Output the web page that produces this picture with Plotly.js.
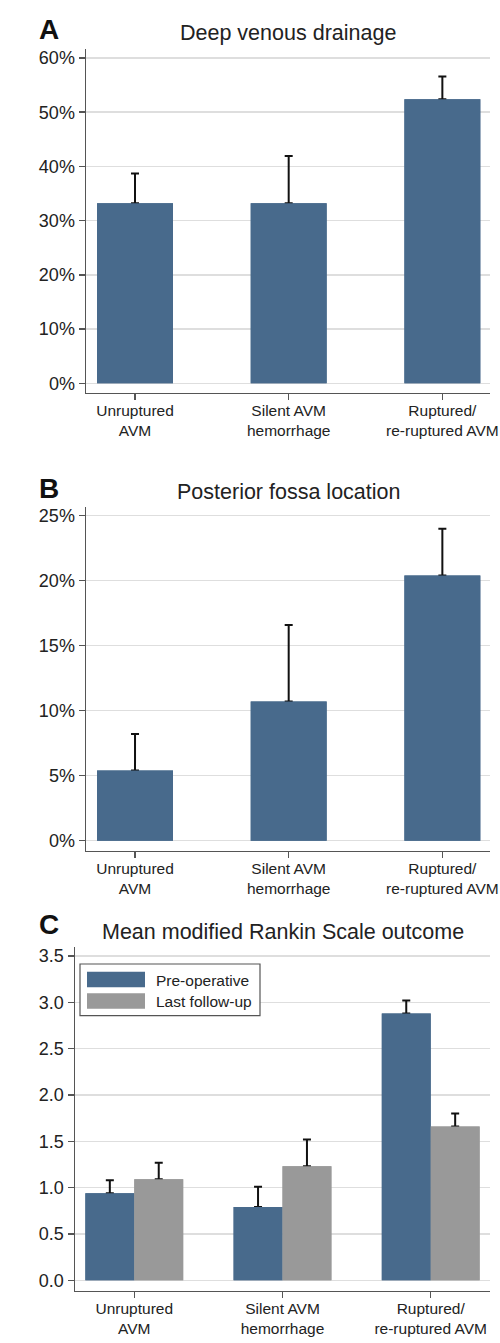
<!DOCTYPE html>
<html>
<head>
<meta charset="utf-8">
<script src="https://cdn.plot.ly/plotly-3.0.1.min.js"></script>
<style>
  html, body { margin: 0; padding: 0; background: #ffffff; }
  #chart { width: 500px; height: 1343px; }
</style>
</head>
<body>
<div id="chart"></div>
<script>
// ---- Data ----
const categories = ['Unruptured<br>AVM', 'Silent AVM<br>hemorrhage', 'Ruptured/<br>re-ruptured AVM'];

const deepVenous = [33.2, 33.2, 52.4];
const deepVenousUpper = [38.7, 41.9, 56.6];

const posteriorFossa = [5.4, 10.7, 20.4];
const posteriorFossaUpper = [8.2, 16.6, 24.0];

const seriesNames = ['Pre-operative', 'Last follow-up'];
const mrsPreop = [0.94, 0.79, 2.88];
const mrsPreopUpper = [1.08, 1.01, 3.02];
const mrsLast = [1.09, 1.23, 1.66];
const mrsLastUpper = [1.27, 1.52, 1.80];

const panelTitles = ['Deep venous drainage', 'Posterior fossa location', 'Mean modified Rankin Scale outcome'];
const panelLetters = ['A', 'B', 'C'];

const ticksA = [0, 10, 20, 30, 40, 50, 60];
const ticksB = [0, 5, 10, 15, 20, 25];
const ticksC = [0, 0.5, 1, 1.5, 2, 2.5, 3, 3.5];

// ---- Styling ----
const W = 500, H = 1343;
const px = v => v / W;
const py = v => 1 - v / H;
const BLUE = '#486a8c';
const GREY = '#999999';
const AXIS = '#555555';
const GRID = '#dedede';
const TXT = '#222222';
const FONT = 'Arial, "Liberation Sans", Helvetica, sans-serif';

function diff(upper, val) { return upper.map((u, i) => u - val[i]); }
function zeros(a) { return a.map(() => 0); }

function errBars(upper, val) {
  return {type: 'data', symmetric: false, array: diff(upper, val), arrayminus: zeros(val),
          color: '#111111', thickness: 2, width: 4, visible: true};
}

const traces = [];
// Panel A
traces.push({type: 'bar', x: categories, y: deepVenous, xaxis: 'x', yaxis: 'y', width: 0.494,
  marker: {color: BLUE, line: {width: 0}}, error_y: errBars(deepVenousUpper, deepVenous),
  showlegend: false, hoverinfo: 'skip'});
traces.push({type: 'bar', x: categories, y: deepVenous, xaxis: 'x', yaxis: 'y', width: 0.494,
  marker: {color: BLUE, line: {width: 0}}, showlegend: false, name: 'Deep venous drainage'});
// Panel B
traces.push({type: 'bar', x: categories, y: posteriorFossa, xaxis: 'x2', yaxis: 'y2', width: 0.494,
  marker: {color: BLUE, line: {width: 0}}, error_y: errBars(posteriorFossaUpper, posteriorFossa),
  showlegend: false, hoverinfo: 'skip'});
traces.push({type: 'bar', x: categories, y: posteriorFossa, xaxis: 'x2', yaxis: 'y2', width: 0.494,
  marker: {color: BLUE, line: {width: 0}}, showlegend: false, name: 'Posterior fossa location'});
// Panel C
const bw = 0.33;
traces.push({type: 'bar', x: categories, y: mrsPreop, xaxis: 'x3', yaxis: 'y3', width: bw, offset: -bw,
  marker: {color: BLUE, line: {width: 0}}, error_y: errBars(mrsPreopUpper, mrsPreop),
  showlegend: false, hoverinfo: 'skip'});
traces.push({type: 'bar', x: categories, y: mrsLast, xaxis: 'x3', yaxis: 'y3', width: bw, offset: 0,
  marker: {color: GREY, line: {width: 0}}, error_y: errBars(mrsLastUpper, mrsLast),
  showlegend: false, hoverinfo: 'skip'});
traces.push({type: 'bar', x: categories, y: mrsPreop, xaxis: 'x3', yaxis: 'y3', width: bw, offset: -bw,
  marker: {color: BLUE, line: {width: 0}}, name: seriesNames[0], showlegend: false});
traces.push({type: 'bar', x: categories, y: mrsLast, xaxis: 'x3', yaxis: 'y3', width: bw, offset: 0,
  marker: {color: GREY, line: {width: 0}}, name: seriesNames[1], showlegend: false});

function xAxis(domain, range, anchor) {
  return {domain: domain, range: range, anchor: anchor, type: 'category',
    showline: true, linecolor: AXIS, linewidth: 1.5, mirror: false,
    ticks: 'outside', ticklen: 6, tickwidth: 1.5, tickcolor: AXIS,
    ticklabelstandoff: -3,
    showgrid: false, zeroline: false, fixedrange: true,
    tickfont: {family: FONT, size: 15.5, color: TXT}};
}
function yAxis(domain, range, anchor, tickvals, ticktext, fontSize) {
  return {domain: domain, range: range, anchor: anchor,
    tickmode: 'array', tickvals: tickvals, ticktext: ticktext,
    showline: true, linecolor: AXIS, linewidth: 1.5,
    ticks: 'outside', ticklen: 6, tickwidth: 1.5, tickcolor: AXIS,
    showgrid: true, gridcolor: GRID, gridwidth: 1.5, zeroline: false, fixedrange: true,
    tickfont: {family: FONT, size: fontSize, color: TXT}};
}

const pct = a => a.map(v => v + '%');
const dec = a => a.map(v => v.toFixed(1));

const layout = {
  width: W, height: H,
  margin: {l: 0, r: 0, t: 0, b: 0},
  paper_bgcolor: '#ffffff', plot_bgcolor: '#ffffff',
  barmode: 'overlay',
  showlegend: false,
  font: {family: FONT, color: TXT},
  xaxis: xAxis([px(86), px(490)], [-0.319, 2.31], 'y'),
  yaxis: yAxis([py(392.7), py(49.3)], [-1.73, 61.6], 'x', ticksA, pct(ticksA), 18),
  xaxis2: xAxis([px(86), px(490)], [-0.319, 2.31], 'y2'),
  yaxis2: yAxis([py(850.7), py(506.7)], [-0.77, 25.69], 'x2', ticksB, pct(ticksB), 18),
  xaxis3: xAxis([px(75), px(490)], [-0.4, 2.4], 'y3'),
  yaxis3: yAxis([py(1290.7), py(946.7)], [-0.112, 3.6], 'x3', ticksC, dec(ticksC), 18),
  annotations: [
    {text: panelTitles[0], xref: 'paper', yref: 'paper', x: px(288), y: py(33), xanchor: 'center', yanchor: 'middle', showarrow: false, font: {family: FONT, size: 21.5, color: TXT}},
    {text: panelTitles[1], xref: 'paper', yref: 'paper', x: px(288), y: py(491.7), xanchor: 'center', yanchor: 'middle', showarrow: false, font: {family: FONT, size: 21.5, color: TXT}},
    {text: panelTitles[2], xref: 'paper', yref: 'paper', x: px(282.5), y: py(931.7), xanchor: 'center', yanchor: 'middle', showarrow: false, font: {family: FONT, size: 21.5, color: TXT}},
    {text: '<b>' + panelLetters[0] + '</b>', xref: 'paper', yref: 'paper', x: px(37), y: py(29.3), xanchor: 'left', yanchor: 'middle', showarrow: false, font: {family: FONT, size: 28, color: '#111111'}},
    {text: '<b>' + panelLetters[1] + '</b>', xref: 'paper', yref: 'paper', x: px(37), y: py(488), xanchor: 'left', yanchor: 'middle', showarrow: false, font: {family: FONT, size: 28, color: '#111111'}},
    {text: '<b>' + panelLetters[2] + '</b>', xref: 'paper', yref: 'paper', x: px(37), y: py(924), xanchor: 'left', yanchor: 'middle', showarrow: false, font: {family: FONT, size: 28, color: '#111111'}},
    {text: seriesNames[0], xref: 'paper', yref: 'paper', x: px(154), y: py(980), xanchor: 'left', yanchor: 'middle', showarrow: false, font: {family: FONT, size: 15.5, color: TXT}},
    {text: seriesNames[1], xref: 'paper', yref: 'paper', x: px(154), y: py(1001.5), xanchor: 'left', yanchor: 'middle', showarrow: false, font: {family: FONT, size: 15.5, color: TXT}}
  ],
  shapes: [
    {type: 'rect', xref: 'paper', yref: 'paper', x0: px(80), x1: px(260), y0: py(1015.7), y1: py(964), line: {color: AXIS, width: 1.2}, fillcolor: 'rgba(255,255,255,1)', layer: 'above'},
    {type: 'rect', xref: 'paper', yref: 'paper', x0: px(87), x1: px(145), y0: py(987.3), y1: py(971.7), line: {width: 0}, fillcolor: BLUE, layer: 'above'},
    {type: 'rect', xref: 'paper', yref: 'paper', x0: px(87), x1: px(145), y0: py(1008.7), y1: py(993.3), line: {width: 0}, fillcolor: GREY, layer: 'above'}
  ]
};

Plotly.newPlot('chart', traces, layout, {staticPlot: true, displayModeBar: false});
</script>
</body>
</html>
